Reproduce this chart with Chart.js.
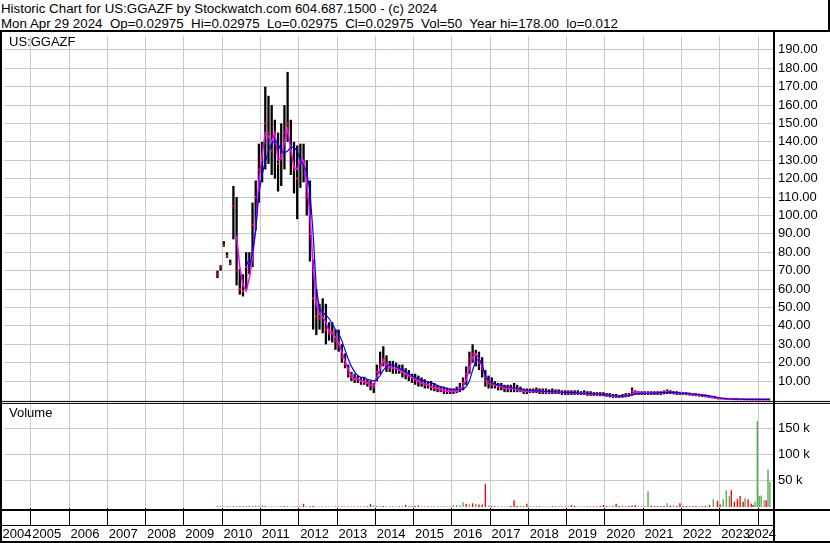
<!DOCTYPE html>
<html>
<head>
<meta charset="utf-8">
<title>Historic Chart for US:GGAZF</title>
<script src="https://cdn.jsdelivr.net/npm/chart.js@4.4.1/dist/chart.umd.min.js"></script>
<style>
  html, body { margin: 0; padding: 0; background: #fff; }
  body { width: 830px; height: 543px; position: relative; overflow: hidden;
         font-family: "Liberation Sans", Arial, sans-serif; font-size: 13px; color: #000; }
  #header { position: absolute; left: 0; top: 0; width: 830px; height: 32px; box-sizing: border-box;
            border-bottom: 2px solid #000; border-right: 2px solid #000;
            padding: 1px 0 0 1px; line-height: 15px; white-space: pre; }
  #header span { display: block; transform: scaleX(1.025); transform-origin: 0 0; }
  #chart { position: absolute; left: 0; top: 32px; }
  .tag { position: absolute; left: 9px; line-height: 15px; white-space: pre; }
</style>
</head>
<body>
<div id="header"><span>Historic Chart for US:GGAZF by Stockwatch.com 604.687.1500 - (c) 2024</span><span>Mon Apr 29 2024  Op=0.02975  Hi=0.02975  Lo=0.02975  Cl=0.02975  Vol=50  Year hi=178.00  lo=0.012</span></div>
<canvas id="chart" width="830" height="511"></canvas>
<div class="tag" style="top:34px">US:GGAZF</div>
<div class="tag" style="top:405px">Volume</div>

<script>
// monthly series, Nov 2009 .. Apr 2024
const firstYear = 2009;
const firstMonth = 11;

const priceHigh = [
  70, 73,
  86, 80, 76, 116, 110, 71, 68, 80, 80, 107, 119, 139,
  140, 170, 165, 160, 152, 145, 150, 160, 178, 152, 140, 138,
  139, 139, 130, 119, 76, 60, 52, 55, 52, 42, 42, 38,
  38, 30, 25, 19, 15, 14, 13, 12, 12, 11, 10, 9,
  19, 26, 29, 24, 21, 21, 20, 19, 19, 17, 16, 14,
  14, 13, 12, 11, 10, 10, 9, 8, 7, 7, 6.5, 6,
  6, 7, 9, 12, 18, 26, 30, 27, 26, 23, 16, 13,
  12, 10, 9, 9, 8, 8, 8, 9, 8, 7, 6, 6,
  6, 6, 6.5, 6, 6, 6, 5.5, 6, 5.5, 5.5, 5, 5,
  5, 5, 5, 5, 4.5, 5, 4.5, 4.5, 4, 4, 4, 4,
  3.5, 3.5, 3, 3, 2.5, 3, 3.5, 3.5, 6.5, 5, 4.5, 4.5,
  4.5, 4.5, 4.5, 4.5, 4.5, 4.5, 5, 5.5, 5, 4.5, 4.5, 4.2,
  4, 4, 3.8, 3.5, 3.5, 3.2, 3, 2.8, 2.5, 2, 1.6, 1.2,
  0.8, 0.6, 0.5, 0.4, 0.35, 0.3, 0.25, 0.2, 0.18, 0.15, 0.12, 0.1,
  0.08, 0.06, 0.05, 0.04
];

const priceLow = [
  66, 70,
  83, 77, 73, 87, 62, 57, 56, 60, 68, 72, 92, 107,
  118, 125, 128, 122, 120, 113, 116, 125, 140, 122, 112, 98,
  115, 118, 100, 75, 38, 35, 38, 36, 30, 32, 31, 27,
  26, 20, 17, 12, 10, 9, 9, 8, 8, 7, 5, 3.5,
  10, 14, 18, 15, 15, 14, 14, 14, 12, 11, 10, 9,
  8, 7, 7, 6, 6, 5, 4.5, 4, 4, 3, 3, 3,
  3, 3.5, 4, 5, 8, 14, 20, 18, 16, 12, 7, 6,
  6, 6, 5, 5, 4, 4, 4, 4, 4, 4, 3, 3,
  3.5, 3.5, 3.5, 3, 3, 3, 3, 3, 3, 3, 2.5, 2.5,
  2.5, 2.5, 2.5, 2.5, 2.5, 2.5, 2, 2, 2, 2, 1.8, 1.8,
  1.5, 1.2, 0.8, 0.8, 0.8, 1, 1.2, 1.5, 2, 2.5, 2.5, 2.5,
  2.5, 2.5, 2.5, 2.5, 2.5, 2.5, 2.8, 3, 3, 2.8, 2.5, 2.5,
  2.5, 2.3, 2.2, 2, 1.8, 1.6, 1.4, 1.2, 1, 0.7, 0.4, 0.2,
  0.3, 0.25, 0.2, 0.15, 0.12, 0.1, 0.08, 0.07, 0.06, 0.05, 0.04, 0.03,
  0.02, 0.015, 0.012, 0.02
];

const priceClose = [
  68, 72,
  84, 78, 74, 105, 70, 60, 59, 72, 74, 95, 110, 125,
  130, 150, 145, 135, 140, 128, 133, 145, 150, 135, 125, 120,
  130, 128, 110, 90, 55, 45, 44, 47, 38, 36, 37, 32,
  30, 23, 19, 14, 12, 11, 11, 10, 9.5, 9, 8, 7,
  15, 19, 22, 18, 17, 17, 17, 16, 15, 14, 13, 12,
  11, 10, 9, 8, 8, 7, 6, 6, 5, 5, 4.5, 4.5,
  4.5, 5, 6, 9, 14, 22, 25, 24, 20, 17, 10, 9,
  8, 8, 7, 7, 6, 6, 6, 6, 5.5, 5, 4.5, 4.5,
  4.5, 4.5, 5, 4.5, 4.5, 4.5, 4, 4.5, 4, 4, 4, 3.8,
  3.8, 3.8, 3.6, 3.6, 3.5, 3.5, 3.2, 3.2, 3, 3, 2.8, 2.8,
  2.5, 2.3, 1.8, 1.6, 1.7, 2, 2.2, 2.4, 4.8, 3.5, 3.4, 3.4,
  3.5, 3.5, 3.5, 3.5, 3.6, 3.7, 4, 4.5, 4, 3.8, 3.6, 3.4,
  3.3, 3.1, 3, 2.8, 2.6, 2.4, 2.2, 1.9, 1.6, 1.2, 0.9, 0.6,
  0.5, 0.4, 0.3, 0.25, 0.2, 0.15, 0.12, 0.1, 0.09, 0.08, 0.06, 0.05,
  0.04, 0.035, 0.03, 0.03
];

// short moving average (magenta)
const maShort = [
  null, null,
  null, null, null, null, 89, 72, 62, 59, 66, 77, 93, 118,
  133, 145, 143, 140, 145, 130, 131, 140, 147, 136, 126, 125,
  130, 130, 118, 100, 72, 52, 46, 45, 42, 37, 36, 34,
  31, 26, 21, 16, 13, 11, 11, 10.5, 10, 9, 7.5, 7.5,
  12, 17, 21, 19, 18, 17, 17, 16, 15, 14, 13, 12,
  11, 10, 9, 8.5, 8, 7, 6.5, 6, 5.5, 5, 4.5, 4.5,
  4.5, 4.5, 5, 7, 11, 17, 23, 25, 22, 18, 12, 10,
  9, 8, 7.5, 7, 6.5, 6, 6, 6, 5.5, 5, 4.8, 4.5,
  4.5, 4.5, 4.5, 4.4, 4.3, 4.2, 4.2, 4.2, 4, 4, 3.9, 3.8,
  3.8, 3.7, 3.6, 3.5, 3.4, 3.3, 3.2, 3.1, 3, 3, 2.9, 2.8,
  2.6, 2.4, 2, 1.8, 1.7, 1.8, 2, 2.2, 3, 4.5, 4, 3.5,
  3.4, 3.4, 3.5, 3.5, 3.6, 3.7, 3.9, 4.4, 4.2, 3.8, 3.6, 3.4,
  3.3, 3.2, 3, 2.9, 2.7, 2.5, 2.3, 2, 1.7, 1.4, 1, 0.7,
  0.5, 0.4, 0.3, 0.25, 0.2, 0.15, 0.12, 0.1, 0.08, 0.07, 0.06, 0.05,
  0.04, 0.035, 0.03, 0.03
];

// long moving average (blue)
const maLong = [
  null, null,
  null, null, null, null, null, null, null, 76, 72, 80, 92, 112,
  122, 129, 135, 139, 141, 139, 135, 134, 135, 137, 137, 135,
  130, 127, 123, 113, 90, 60, 50, 47, 46, 44, 41, 38,
  36, 32, 27, 22, 18, 15, 13, 12, 12, 11, 10.5, 10,
  11, 13, 16, 18, 19, 18.5, 18, 17, 16, 15, 14, 13,
  12, 11, 10.5, 10, 9.5, 9, 8.5, 7.5, 7, 6.5, 6, 5.5,
  5.5, 5.3, 5.3, 5.5, 7, 10, 16, 21, 22, 19, 13, 10,
  9, 8.5, 8, 7.5, 7, 6.8, 6.5, 6.3, 6, 5.6, 5.3, 5,
  4.9, 4.8, 4.7, 4.6, 4.5, 4.4, 4.4, 4.3, 4.2, 4.1, 4, 3.9,
  3.9, 3.8, 3.7, 3.6, 3.5, 3.4, 3.3, 3.2, 3.1, 3, 2.9, 2.8,
  2.6, 2.4, 2.2, 2, 1.9, 1.9, 2, 2.2, 2.6, 3, 3.2, 3.3,
  3.4, 3.4, 3.5, 3.5, 3.6, 3.7, 3.8, 3.9, 4, 3.9, 3.7, 3.5,
  3.4, 3.3, 3.1, 3, 2.8, 2.6, 2.4, 2.2, 2, 1.7, 1.4, 1.1,
  0.8, 0.6, 0.4, 0.3, 0.25, 0.2, 0.15, 0.12, 0.1, 0.08, 0.07, 0.06,
  0.05, 0.04, 0.035, 0.03
];

// volume in thousands, monthly Nov 2009 .. Aug 2022
const volMonthly = [
  1.5, 1,
  1, 1.5, 1, 1.5, 1, 1.5, 2, 1.5, 2.5, 1.5, 3, 2,
  3, 3, 1.5, 1, 1, 1, 1.5, 2, 1, 1, 1, 1,
  1, 6, 1, 1.5, 2, 1, 1, 1, 1, 1, 1, 1,
  1, 1, 1, 1, 1, 1, 1, 1, 1, 1.5, 6, 3,
  2, 1, 2, 1, 1.5, 1, 1, 1.5, 2, 4, 2, 1.5,
  2, 3, 1, 1, 1, 1, 1, 1, 1, 1, 1, 1,
  3, 4, 3, 9, 6, 5, 7, 6, 5, 5, 44, 3,
  2, 2, 1, 1, 1, 1, 2, 13, 2, 1.5, 2, 6,
  2, 1.5, 1, 1.5, 1, 1, 1, 1.5, 1.5, 1, 1, 1,
  1, 4, 2, 1, 1, 1, 1.5, 1, 1.5, 1, 2, 4,
  2, 2, 3, 6, 2, 3, 1.5, 2, 3, 4, 2, 1,
  2, 30, 3, 2, 2, 1.5, 2, 7, 3, 4, 2, 7,
  2, 2, 2, 1.5, 2, 1, 2, 2
];
// g = up, r = down, x = unchanged
const volMonthlyDir = (
  'rr' +
  'grrrrrgrgrgg' + 'gggrrgrrrgrr' + 'rrrrrggrrggr' + 'rrrrrrrrrrrg' +
  'grrrgrgrgrgr' + 'rrgrrrrrgrrr' + 'ggggrgrgrrrg' + 'rgrrgrrrrrgr' +
  'ggrrgrrrgrrr' + 'rrrrrgrrrrrr' + 'rggrrgrrrrgr' + 'ggrrrrrgrxrr' +
  'rrgrrrrr'
).split('');

// the last months carry several weekly bars each
const volLateDates = [2022.73, 2022.83, 2022.94, 2023.01, 2023.09, 2023.17, 2023.25, 2023.30,
  2023.38, 2023.46, 2023.53, 2023.61, 2023.66, 2023.74, 2023.82, 2023.87, 2023.92, 2023.98,
  2024.03, 2024.08, 2024.16, 2024.21, 2024.26, 2024.31];
const volLate = [4, 15, 12, 5, 15, 32, 21, 32, 10, 15, 21, 10, 17, 15, 6, 4, 10, 164, 21, 22, 13, 13, 72, 48];
const volLateDir = 'rgrrgggrrrrrgrrrggggxrgg'.split('');

const priceTicks = [10, 20, 30, 40, 50, 60, 70, 80, 90, 100, 110, 120, 130, 140, 150, 160, 170, 180, 190];
const volumeTicks = [50, 100, 150];
const yearTicks = [2005, 2006, 2007, 2008, 2009, 2010, 2011, 2012, 2013, 2014,
  2015, 2016, 2017, 2018, 2019, 2020, 2021, 2022, 2023, 2024];
const yearLabels = ['2004', '2005', '2006', '2007', '2008', '2009', '2010', '2011', '2012', '2013', '2014',
  '2015', '2016', '2017', '2018', '2019', '2020', '2021', '2022', '2023', '2024'];

const X_MIN = 2004.298;
const X_MAX = 2024.39;
const GRID = '#c8c8c8';
const FONT = { family: '"Liberation Sans", Arial, sans-serif', size: 13 };
const dirColor = { g: '#4cb04c', r: '#ff0000', x: '#a0a0a0' };

// year labels start just right of each year line; the first and last are pulled inside the frame
const yearLabelAt = [X_MIN - 0.04].concat(yearTicks.slice(0, -1).map(y => y + 0.035), [2023.715]);

const months = priceClose.map((_, i) => firstYear + (firstMonth - 1 + i + 0.5) / 12);

function points(values) {
  const out = [];
  values.forEach((v, i) => {
    if (v !== null) out.push({ x: months[i], y: v });
  });
  return out;
}

const rangeBars = months.map((m, i) => ({ x: m, y: [priceLow[i], priceHigh[i]] }));
const volPoints = volMonthly.map((v, i) => ({ x: months[i], y: v }))
  .concat(volLate.map((v, i) => ({ x: volLateDates[i], y: v })));
const volColors = volMonthlyDir.concat(volLateDir).map(d => dirColor[d]);

// stop the axes from reserving room for half labels at the ends
function noPadding(s) {
  s.paddingTop = 0;
  s.paddingBottom = 0;
  s.paddingLeft = 0;
  s.paddingRight = 0;
}

const framePlugin = {
  id: 'frame',
  afterDraw(chart) {
    const ctx = chart.ctx;
    const area = chart.chartArea;
    const W = chart.width;
    const H = chart.height;
    const paneBottom = chart.scales.y.bottom;
    ctx.save();
    ctx.fillStyle = '#000';
    ctx.fillRect(0, 0, 2, H);
    ctx.fillRect(area.right, 0, 2, H);
    // double rule between price and volume panes
    ctx.fillRect(0, paneBottom, W, 1);
    ctx.fillRect(0, paneBottom + 2, W, 1);
    ctx.fillRect(0, area.bottom + 1, W, 2);
    ctx.fillRect(0, chart.scales.x.bottom, area.right, 1);
    ctx.fillRect(0, H - 2, W, 2);
    ctx.restore();
  }
};

new Chart(document.getElementById('chart'), {
  type: 'line',
  data: {
    datasets: [
      {
        label: 'Long MA',
        data: points(maLong),
        xAxisID: 'x', yAxisID: 'y',
        borderColor: '#0000ff', borderWidth: 1.2,
        pointRadius: 0, tension: 0, order: 1
      },
      {
        label: 'Short MA',
        data: points(maShort),
        xAxisID: 'x', yAxisID: 'y',
        borderColor: '#ff00ff', borderWidth: 1.5,
        pointRadius: 0, tension: 0, order: 2
      },
      {
        label: 'Close',
        data: points(priceClose),
        xAxisID: 'x', yAxisID: 'y',
        showLine: false,
        pointStyle: 'rect', pointRadius: 1.5,
        pointBackgroundColor: '#ff0000', pointBorderWidth: 0,
        order: 3
      },
      {
        type: 'bar',
        label: 'Range',
        data: rangeBars,
        xAxisID: 'x', yAxisID: 'y',
        backgroundColor: '#000',
        grouped: false, maxBarThickness: 4,
        order: 4
      },
      {
        type: 'bar',
        label: 'Volume',
        data: volPoints,
        xAxisID: 'xv', yAxisID: 'yv',
        backgroundColor: volColors,
        grouped: false, maxBarThickness: 2,
        order: 5
      }
    ]
  },
  options: {
    responsive: false,
    animation: false,
    devicePixelRatio: 1,
    events: [],
    layout: { padding: 0 },
    plugins: {
      legend: { display: false },
      tooltip: { enabled: false }
    },
    scales: {
      x: {
        type: 'linear',
        position: 'bottom',
        min: X_MIN, max: X_MAX,
        offset: false,
        afterBuildTicks: s => { s.ticks = yearTicks.map(v => ({ value: v })); },
        afterFit: s => { s.height = 17; noPadding(s); },
        grid: { color: GRID, offset: false, drawTicks: true, tickLength: 17, tickColor: '#000' },
        border: { display: false },
        ticks: { display: false }
      },
      x2: {
        type: 'linear',
        position: 'bottom',
        min: X_MIN, max: X_MAX,
        offset: false,
        afterBuildTicks: s => { s.ticks = yearLabelAt.map(v => ({ value: v })); },
        afterFit: s => { s.height = 18; noPadding(s); },
        grid: { display: false, drawTicks: false },
        border: { display: false },
        ticks: {
          font: FONT, color: '#000', padding: 1.5, align: 'start',
          autoSkip: false, maxRotation: 0, minRotation: 0,
          callback: (v, i) => yearLabels[i]
        }
      },
      xv: {
        type: 'linear',
        display: false,
        min: X_MIN, max: X_MAX,
        offset: false
      },
      y: {
        type: 'linear',
        position: 'right',
        stack: 'panes', stackWeight: 368,
        min: -0.75, max: 197.5,
        afterBuildTicks: s => { s.ticks = priceTicks.map(v => ({ value: v })); },
        afterFit: s => { s.width = 57; noPadding(s); },
        grid: { color: GRID, drawTicks: false },
        border: { display: false },
        ticks: { font: FONT, color: '#000', padding: 5, autoSkip: false, callback: v => v.toFixed(2) }
      },
      yv: {
        type: 'linear',
        position: 'right',
        stack: 'panes', stackWeight: 108,
        min: -1.9, max: 203,
        afterBuildTicks: s => { s.ticks = volumeTicks.map(v => ({ value: v })); },
        afterFit: s => { s.width = 57; noPadding(s); },
        grid: { color: GRID, drawTicks: false },
        border: { display: false },
        ticks: { font: FONT, color: '#000', padding: 5, autoSkip: false, callback: v => v + ' k' }
      }
    }
  },
  plugins: [framePlugin]
});
</script>
</body>
</html>
